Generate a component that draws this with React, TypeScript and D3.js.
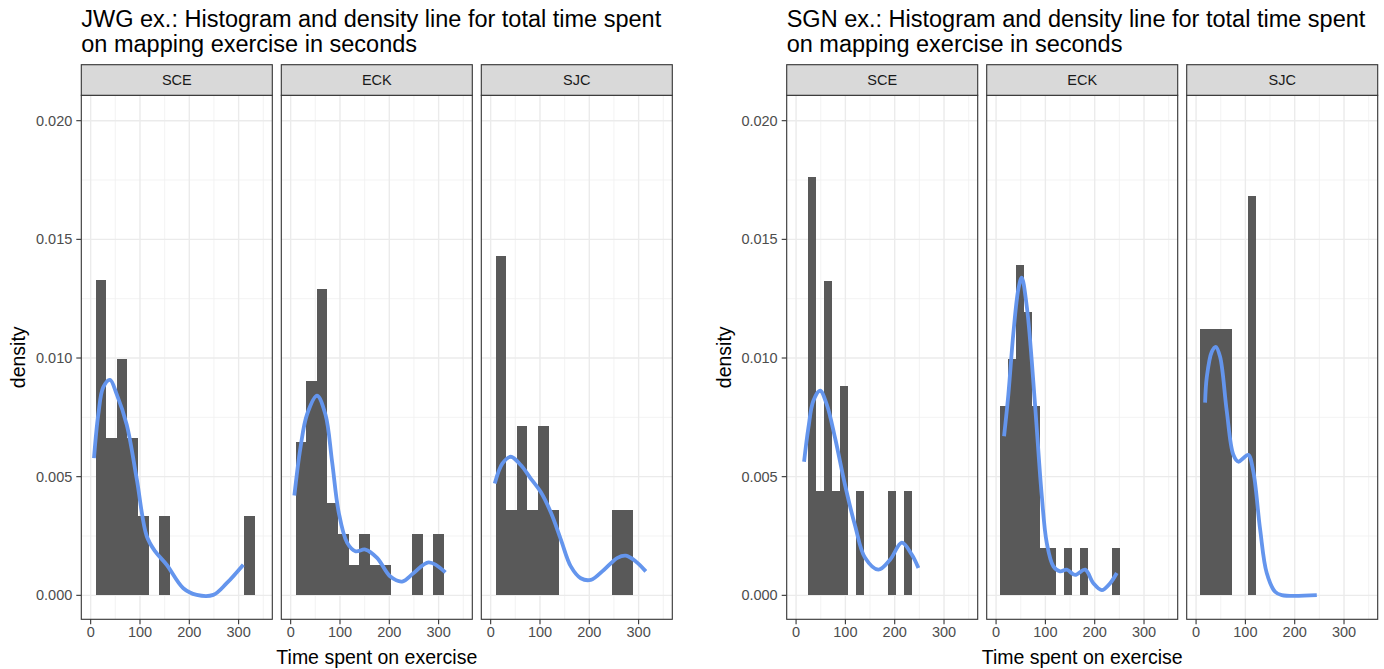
import * as d3 from "d3";

// facets, in panel order
const facets = ["SCE", "ECK", "SJC"];

// JWG exercise: histogram counts per bin (15 bins)
const jwgBinStart = 10.1;
const jwgBinWidth = 21.5;
const jwgSCE = [4, 2, 3, 2, 1, 0, 1, 0, 0, 0, 0, 0, 0, 0, 1];
const jwgECK = [5, 7, 10, 3, 2, 1, 2, 1, 1, 0, 0, 2, 0, 2, 0];
const jwgSJC = [4, 1, 2, 1, 2, 1, 0, 0, 0, 0, 0, 1, 1, 0, 0];

// SGN exercise: histogram counts per bin (15 bins)
const sgnBinStart = 8.0;
const sgnBinWidth = 16.2;
const sgnSCE = [0, 4, 1, 3, 1, 2, 0, 1, 0, 0, 0, 1, 0, 1, 0];
const sgnECK = [4, 5, 7, 6, 4, 1, 1, 0, 1, 0, 1, 0, 0, 0, 1];
const sgnSJC = [2, 2, 2, 2, 0, 0, 3, 0, 0, 0, 0, 0, 0, 0, 0];

// density lines, [seconds, density]
const jwgDensSCE: [number, number][] = [
  [6.7, 0.00578], [15.5, 0.00763], [25.6, 0.00877], [39.1, 0.00908], [52.7, 0.00848],
  [73, 0.0072], [93.3, 0.00492], [113.6, 0.0025], [130.4, 0.00186], [154.1, 0.00129],
  [187.8, 0.0003], [215, 0.00002], [248.7, 0.00002], [275.8, 0.00051], [309.5, 0.00129],
];
const jwgDensECK: [number, number][] = [
  [7.5, 0.00421], [19.7, 0.0062], [33.3, 0.00763], [53.5, 0.00841], [70.4, 0.00763],
  [84, 0.00563], [97.4, 0.0035], [114.4, 0.00222], [131.2, 0.00186], [151.5, 0.00193],
  [175.2, 0.00158], [202.2, 0.00079], [225.9, 0.00058], [249.5, 0.00094], [279.9, 0.00139],
  [313.8, 0.00097],
];
const jwgDensSJC: [number, number][] = [
  [8.3, 0.00471], [23.9, 0.00556], [40.8, 0.00584], [61, 0.00549], [81.3, 0.00492],
  [101.6, 0.00435], [121.9, 0.0035], [142.2, 0.00236], [162.5, 0.00122], [182.7, 0.00072],
  [203, 0.00065], [230, 0.00108], [257.2, 0.00158], [274, 0.00167], [294.3, 0.00143],
  [314.6, 0.00101],
];
const sgnDensSCE: [number, number][] = [
  [16.2, 0.00563], [25, 0.00706], [35.1, 0.0082], [48.7, 0.00862], [62.2, 0.00805],
  [79.1, 0.00663], [99.4, 0.00464], [119.7, 0.00293], [139.9, 0.00158], [166.9, 0.00108],
  [190.6, 0.0015], [214.4, 0.00222], [234.6, 0.00172], [248.1, 0.00115],
];
const sgnDensECK: [number, number][] = [
  [16.2, 0.0067], [25, 0.00848], [35.1, 0.01105], [45.2, 0.0129], [52, 0.01339],
  [62.2, 0.01218], [72.3, 0.0099], [82.4, 0.00706], [92.6, 0.00421], [102.7, 0.00222],
  [116.2, 0.00122], [129.8, 0.00101], [143.3, 0.00108], [160.2, 0.00086], [180.5, 0.00108],
  [197.4, 0.00051], [214.4, 0.00022], [231.3, 0.00051], [244.8, 0.00094],
];
const sgnDensSJC: [number, number][] = [
  [18.3, 0.00812], [21.7, 0.00919], [31.8, 0.01026], [39.9, 0.01047], [48.7, 0.01005],
  [62.2, 0.00777], [75.6, 0.00592], [85.8, 0.00563], [95.9, 0.00578], [106, 0.00592],
  [116.2, 0.0052], [129.8, 0.00279], [143.3, 0.00094], [160.2, 0.00015], [173.8, 0.00001],
  [244.8, 0.00001],
];

const xMajor = [0, 100, 200, 300];
const xMinor = [50, 150, 250, 350];
const yMajor = [0, 0.005, 0.01, 0.015, 0.02];
const yMinor = [0.0025, 0.0075, 0.0125, 0.0175];

const W = 1384;
const H = 669;
const panelW = 191;
const pitch = 200;
const stripTop = 64.7;
const panelTop = 95.3;
const panelBottom = 619.3;
const font = "'Liberation Sans', Arial, sans-serif";

const x = d3.scaleLinear().domain([-19, 368.3]).range([0, panelW]);
const y = d3.scaleLinear().domain([-0.00101, 0.02107]).range([panelBottom, panelTop]);

const line = d3
  .line<[number, number]>()
  .x((d) => x(d[0]))
  .y((d) => y(d[1]))
  .curve(d3.curveCatmullRom.alpha(0.5));

type PlotProps = {
  left: number;
  title: string[];
  binStart: number;
  binWidth: number;
  counts: number[][];
  curves: [number, number][][];
};

function Plot({ left, title, binStart, binWidth, counts, curves }: PlotProps) {
  const fmt = d3.format(".3f");
  return (
    <g>
      {title.map((t, i) => (
        <text key={t} x={left} y={27 + i * 25} fontSize={23.5} fill="#000" fontFamily={font}>
          {t}
        </text>
      ))}
      <text
        transform={`translate(${left - 63},${(panelTop + panelBottom) / 2}) rotate(-90)`}
        textAnchor="middle"
        dy="0.35em"
        fontSize={19.5}
        fontFamily={font}
      >
        density
      </text>
      {yMajor.map((v) => (
        <g key={v}>
          <line x1={left - 5} x2={left} y1={y(v)} y2={y(v)} stroke="#333" strokeWidth={1.1} />
          <text x={left - 9} y={y(v)} dy="0.35em" textAnchor="end" fontSize={14.5} fill="#4D4D4D" fontFamily={font}>
            {fmt(v)}
          </text>
        </g>
      ))}
      {facets.map((f, i) => {
        const px = left + i * pitch;
        const n = d3.sum(counts[i]);
        return (
          <g key={f} transform={`translate(${px},0)`}>
            <rect x={0} y={panelTop} width={panelW} height={panelBottom - panelTop} fill="#fff" />
            {xMinor.map((v) => (
              <line key={"xm" + v} x1={x(v)} x2={x(v)} y1={panelTop} y2={panelBottom} stroke="#F0F0F0" strokeWidth={0.8} />
            ))}
            {yMinor.map((v) => (
              <line key={"ym" + v} x1={0} x2={panelW} y1={y(v)} y2={y(v)} stroke="#F0F0F0" strokeWidth={0.8} />
            ))}
            {xMajor.map((v) => (
              <line key={"xM" + v} x1={x(v)} x2={x(v)} y1={panelTop} y2={panelBottom} stroke="#EBEBEB" strokeWidth={1.4} />
            ))}
            {yMajor.map((v) => (
              <line key={"yM" + v} x1={0} x2={panelW} y1={y(v)} y2={y(v)} stroke="#EBEBEB" strokeWidth={1.4} />
            ))}
            <g shapeRendering="crispEdges">
              {counts[i].map((c, k) =>
                c > 0 ? (
                  <rect
                    key={k}
                    x={x(binStart + k * binWidth)}
                    width={x(binStart + (k + 1) * binWidth) - x(binStart + k * binWidth)}
                    y={y(c / (n * binWidth))}
                    height={y(0) - y(c / (n * binWidth))}
                    fill="#595959"
                  />
                ) : null
              )}
            </g>
            <path d={line(curves[i]) ?? ""} fill="none" stroke="#6495ED" strokeWidth={3.8} strokeLinejoin="round" strokeLinecap="butt" />
            <rect x={0} y={panelTop} width={panelW} height={panelBottom - panelTop} fill="none" stroke="#333" strokeWidth={1.1} />
            <rect x={0} y={stripTop} width={panelW} height={panelTop - stripTop} fill="#D9D9D9" stroke="#333" strokeWidth={1.1} />
            <text x={panelW / 2} y={(stripTop + panelTop) / 2} dy="0.35em" textAnchor="middle" fontSize={14.5} fill="#1A1A1A" fontFamily={font}>
              {f}
            </text>
            {xMajor.map((v) => (
              <g key={"xt" + v}>
                <line x1={x(v)} x2={x(v)} y1={panelBottom} y2={panelBottom + 5} stroke="#333" strokeWidth={1.1} />
                <text x={x(v)} y={panelBottom + 7} dy="0.76em" textAnchor="middle" fontSize={14.5} fill="#4D4D4D" fontFamily={font}>
                  {v}
                </text>
              </g>
            ))}
          </g>
        );
      })}
      <text
        x={left + (2 * pitch + panelW) / 2}
        y={657}
        dy="0.35em"
        textAnchor="middle"
        fontSize={19.5}
        fontFamily={font}
      >
        Time spent on exercise
      </text>
    </g>
  );
}

export default function App() {
  return (
    <svg width={W} height={H} style={{ position: "absolute", left: 0, top: 0, background: "#fff" }}>
      <rect width={W} height={H} fill="#fff" />
      <Plot
        left={81.3}
        title={["JWG ex.: Histogram and density line for total time spent", "on mapping exercise in seconds"]}
        binStart={jwgBinStart}
        binWidth={jwgBinWidth}
        counts={[jwgSCE, jwgECK, jwgSJC]}
        curves={[jwgDensSCE, jwgDensECK, jwgDensSJC]}
      />
      <Plot
        left={786.7}
        title={["SGN ex.: Histogram and density line for total time spent", "on mapping exercise in seconds"]}
        binStart={sgnBinStart}
        binWidth={sgnBinWidth}
        counts={[sgnSCE, sgnECK, sgnSJC]}
        curves={[sgnDensSCE, sgnDensECK, sgnDensSJC]}
      />
    </svg>
  );
}
